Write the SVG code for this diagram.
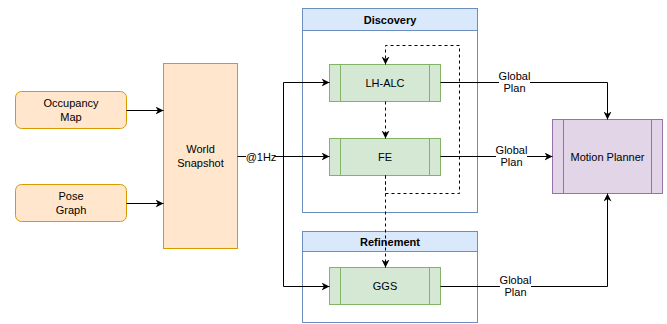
<svg xmlns="http://www.w3.org/2000/svg" width="667" height="324" viewBox="0 0 667 324">
  <defs>
    <marker id="arrow" viewBox="0 0 10 10" refX="10" refY="5" markerWidth="8" markerHeight="8" markerUnits="userSpaceOnUse" orient="auto">
      <path d="M0,0 L10,5 L0,10 L3,5 Z" fill="#000"/>
    </marker>
    <style>
      text { font-family: "Liberation Sans", Arial, sans-serif; font-size: 11px; fill: #000; text-anchor: middle; }
      .hdr { font-weight: bold; }
      .src { fill: #ffe6cc; stroke: #d79b00; stroke-width: 1; }
      .lane { fill: none; stroke: #6c8ebf; stroke-width: 1; }
      .lanehead { fill: #dae8fc; stroke: #6c8ebf; stroke-width: 1; }
      .proc { fill: #d5e8d4; stroke: #82b366; stroke-width: 1; }
      .plan { fill: #e1d5e7; stroke: #9673a6; stroke-width: 1; }
      .edge { fill: none; stroke: #000; stroke-width: 1; }
      .dash { stroke-dasharray: 3 3; }
      .lbl { fill: #fff; stroke: none; }
    </style>
  </defs>

  <!-- input sources -->
  <g id="occupancy-map">
    <rect class="src" x="15.5" y="91.5" width="111" height="37" rx="6"/>
    <text x="71" y="107">Occupancy</text>
    <text x="71" y="120.5">Map</text>
  </g>
  <g id="pose-graph">
    <rect class="src" x="15.5" y="184.5" width="111" height="37" rx="6"/>
    <text x="71" y="200">Pose</text>
    <text x="71" y="213.5">Graph</text>
  </g>
  <g id="world-snapshot">
    <rect class="src" x="163.5" y="63.5" width="74" height="185"/>
    <text x="200.5" y="153">World</text>
    <text x="200.5" y="166.5">Snapshot</text>
  </g>

  <!-- discovery lane -->
  <g id="discovery">
    <rect class="lane" x="302.5" y="8.5" width="175" height="204"/>
    <rect class="lanehead" x="302.5" y="8.5" width="175" height="22"/>
    <text class="hdr" x="390" y="23.5">Discovery</text>
  </g>
  <g id="lh-alc">
    <rect class="proc" x="329.5" y="64.5" width="111" height="37"/>
    <path class="proc" d="M340.5,64.5 V101.5 M429.5,64.5 V101.5"/>
    <text x="385" y="86.5">LH-ALC</text>
  </g>
  <g id="fe">
    <rect class="proc" x="329.5" y="138.5" width="111" height="37"/>
    <path class="proc" d="M340.5,138.5 V175.5 M429.5,138.5 V175.5"/>
    <text x="385" y="160.5">FE</text>
  </g>

  <!-- refinement lane -->
  <g id="refinement">
    <rect class="lane" x="302.5" y="231.5" width="175" height="91"/>
    <rect class="lanehead" x="302.5" y="231.5" width="175" height="20"/>
    <text class="hdr" x="390" y="246">Refinement</text>
  </g>
  <g id="ggs">
    <rect class="proc" x="329.5" y="267.5" width="111" height="37"/>
    <path class="proc" d="M340.5,267.5 V304.5 M429.5,267.5 V304.5"/>
    <text x="385" y="290">GGS</text>
  </g>

  <g id="motion-planner">
    <rect class="plan" x="552.5" y="119.5" width="110" height="74"/>
    <path class="plan" d="M563.5,119.5 V193.5 M651.5,119.5 V193.5"/>
    <text x="607.5" y="160.5">Motion Planner</text>
  </g>

  <!-- connectors -->
  <g id="connectors">
    <path class="edge" d="M126.5,110.5 H163.5" marker-end="url(#arrow)"/>
    <path class="edge" d="M126.5,203.5 H163.5" marker-end="url(#arrow)"/>

    <path class="edge" d="M237.5,156.5 H329.5" marker-end="url(#arrow)"/>
    <path class="edge" d="M283.5,156.5 V82.5 H329.5" marker-end="url(#arrow)"/>
    <path class="edge" d="M283.5,156.5 V286.5 H329.5" marker-end="url(#arrow)"/>
    <rect class="lbl" x="246" y="150" width="29" height="13"/>
    <text x="261" y="160.5">@1Hz</text>

    <path class="edge" d="M440.5,82.5 H607.5 V119.5" marker-end="url(#arrow)"/>
    <path class="edge" d="M440.5,156.5 H552.5" marker-end="url(#arrow)"/>
    <path class="edge" d="M440.5,286.5 H607.5 V193.5" marker-end="url(#arrow)"/>
    <rect class="lbl" x="499" y="70" width="31" height="25"/>
    <text x="514.5" y="79.5">Global</text>
    <text x="514.5" y="92">Plan</text>
    <rect class="lbl" x="496" y="144" width="31" height="25"/>
    <text x="511.5" y="153.5">Global</text>
    <text x="511.5" y="166">Plan</text>
    <rect class="lbl" x="500" y="274" width="31" height="25"/>
    <text x="515.5" y="283.5">Global</text>
    <text x="515.5" y="296">Plan</text>

    <path class="edge dash" d="M385.5,101.5 V138.5" marker-end="url(#arrow)"/>
    <path class="edge dash" d="M385.5,175.5 V193.5 H459.5 V45.5 H385.5 V64.5" marker-end="url(#arrow)"/>
    <path class="edge dash" d="M385.5,175.5 V267.5" marker-end="url(#arrow)"/>
  </g>
</svg>
